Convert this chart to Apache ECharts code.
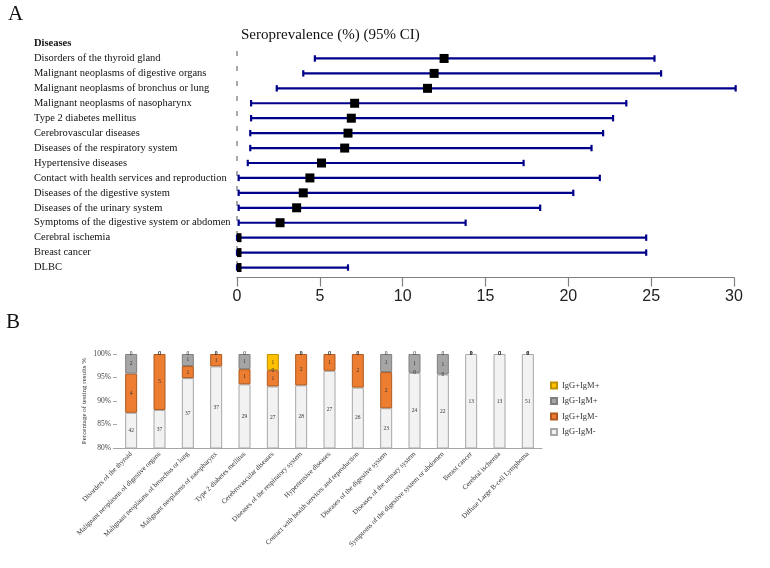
<!DOCTYPE html>
<html>
<head>
<meta charset="utf-8">
<script src="https://cdn.jsdelivr.net/npm/echarts@6/dist/echarts.min.js"></script>
<style>
html,body{margin:0;padding:0;background:#fff;}
#main{width:770px;height:568px;}
</style>
</head>
<body>
<div id="main"></div>
<script>
// panel A: forest plot
var diseases = ['Disorders of the thyroid gland', 'Malignant neoplasms of digestive organs', 'Malignant neoplasms of bronchus or lung',
    'Malignant neoplasms of nasopharynx', 'Type 2 diabetes mellitus', 'Cerebrovascular diseases', 'Diseases of the respiratory system',
    'Hypertensive diseases', 'Contact with health services and reproduction', 'Diseases of the digestive system',
    'Diseases of the urinary system', 'Symptoms of the digestive system or abdomen', 'Cerebral ischemia', 'Breast cancer', 'DLBC'];
var estimate = [12.5, 11.9, 11.5, 7.1, 6.9, 6.7, 6.5, 5.1, 4.4, 4.0, 3.6, 2.6, 0, 0, 0];
var ciLower = [4.7, 4.0, 2.4, 0.85, 0.85, 0.8, 0.8, 0.65, 0.1, 0.1, 0.1, 0.1, 0, 0, 0];
var ciUpper = [25.2, 25.6, 30.1, 23.5, 22.7, 22.1, 21.4, 17.3, 21.9, 20.3, 18.3, 13.8, 24.7, 24.7, 6.7];
var forestTicks = [0, 5, 10, 15, 20, 25, 30];

// panel B: testing results (counts)
var groups = ['Disorders of the thyroid', 'Malignant neoplasms of digestive organs', 'Malignant neoplasms of bronchus or lung',
    'Malignant neoplasms of nasopharynx', 'Type 2 diabetes mellitus', 'Cerebrovascular diseases', 'Diseases of the respiratory system',
    'Hypertensive diseases', 'Contact with health services and reproduction', 'Diseases of the digestive system',
    'Diseases of the urinary system', 'Symptoms of the digestive system or abdomen', 'Breast cancer', 'Cerebral ischemia',
    'Diffuse Large B-cell Lymphoma'];
var negNeg = [42, 37, 37, 37, 29, 27, 28, 27, 26, 23, 24, 22, 13, 13, 51];
var posNeg = [4, 5, 1, 1, 1, 1, 2, 1, 2, 2, 0, 0, 0, 0, 0];
var negPos = [2, 0, 1, 0, 1, 0, 0, 0, 0, 1, 1, 1, 0, 0, 0];
var posPos = [0, 0, 0, 0, 0, 1, 0, 0, 0, 0, 0, 0, 0, 0, 0];
var resultNames = ['IgG-IgM-', 'IgG+IgM-', 'IgG-IgM+', 'IgG+IgM+'];

var serif = '"Liberation Serif", "DejaVu Serif", serif';
var chart = echarts.init(document.getElementById('main'));

// error bar rows
var ciData = [];
var pointData = [];
for (var i = 0; i < diseases.length; i++) {
    ciData.push([ciLower[i], ciUpper[i], i]);
    pointData.push([estimate[i], i]);
}

// 100% stacked -> percent of each category total
var totals = [];
for (var i = 0; i < groups.length; i++) {
    totals.push(negNeg[i] + posNeg[i] + negPos[i] + posPos[i]);
}
function pct(arr) {
    var out = [];
    for (var i = 0; i < arr.length; i++) {
        var item = {value: arr[i] / totals[i] * 100, count: arr[i]};
        // empty segment: no border, only the "0" label
        if (arr[i] === 0) item.itemStyle = {borderWidth: 0};
        out.push(item);
    }
    return out;
}
var barColors = ['#f2f2f2', '#ed7d31', '#a5a5a5', '#ffc000'];
var barBorders = ['#a6a6a6', '#ae5a21', '#7f7f7f', '#bf9000'];
var barSets = [negNeg, posNeg, negPos, posPos];

function renderCI(params, api) {
    var y = api.value(2);
    var p1 = api.coord([api.value(0), y]);
    var p2 = api.coord([api.value(1), y]);
    var h = 3.2;
    var st = {stroke: '#00008B', lineWidth: 2.2};
    return {
        type: 'group',
        children: [
            {type: 'line', shape: {x1: p1[0], y1: p1[1], x2: p2[0], y2: p2[1]}, style: st},
            {type: 'line', shape: {x1: p1[0], y1: p1[1] - h, x2: p1[0], y2: p1[1] + h}, style: st},
            {type: 'line', shape: {x1: p2[0], y1: p2[1] - h, x2: p2[0], y2: p2[1] + h}, style: st}
        ]
    };
}
function renderPoint(params, api) {
    var p = api.coord([api.value(0), api.value(1)]);
    var s = 9;
    var rect = echarts.graphic.clipRectByRect(
        {x: p[0] - s / 2, y: p[1] - s / 2, width: s, height: s},
        {x: params.coordSys.x, y: params.coordSys.y, width: params.coordSys.width, height: params.coordSys.height}
    );
    if (!rect) return;
    return {type: 'rect', shape: rect, style: {fill: '#000'}};
}
// dashed reference line at x = 0, full grid height
function renderZero(params, api) {
    var x = api.coord([0, 0])[0];
    var cs = params.coordSys;
    return {
        type: 'line',
        shape: {x1: x, y1: cs.y, x2: x, y2: cs.y + cs.height},
        style: {stroke: '#555', lineWidth: 1, lineDash: [5, 10]}
    };
}

var series = [
    {
        type: 'custom',
        xAxisIndex: 0,
        yAxisIndex: 0,
        renderItem: renderZero,
        encode: {x: 0, y: 1},
        data: [[0, 0]],
        silent: true,
        z: 1
    },
    {
        type: 'custom',
        xAxisIndex: 0,
        yAxisIndex: 0,
        renderItem: renderCI,
        encode: {x: [0, 1], y: 2},
        data: ciData,
        silent: true,
        z: 2
    },
    {
        type: 'custom',
        xAxisIndex: 0,
        yAxisIndex: 0,
        renderItem: renderPoint,
        encode: {x: 0, y: 1},
        data: pointData,
        silent: true,
        z: 3
    }
];
for (var k = 0; k < resultNames.length; k++) {
    series.push({
        name: resultNames[k],
        type: 'bar',
        xAxisIndex: 1,
        yAxisIndex: 1,
        stack: 'res',
        barWidth: 12,
        data: pct(barSets[k]),
        itemStyle: {color: barColors[k], borderColor: barBorders[k], borderWidth: 1},
        label: {
            show: true,
            position: 'inside',
            fontSize: 5.5,
            fontFamily: serif,
            color: '#333',
            formatter: function (p) { return p.data.count; }
        }
    });
}

var option = {
    backgroundColor: '#fff',
    animation: false,
    textStyle: {fontFamily: serif},
    graphic: [
        {type: 'text', left: 8, top: 4, style: {text: 'A', font: '21px ' + serif, fill: '#111'}},
        {type: 'text', left: 6, top: 312, style: {text: 'B', font: '21px ' + serif, fill: '#111'}},
        {type: 'text', left: 34, top: 38, style: {text: 'Diseases', font: 'bold 10.5px ' + serif, fill: '#111'}},
        {type: 'text', left: 241, top: 28, style: {text: 'Seroprevalence (%) (95% CI)', font: '15px ' + serif, fill: '#111'}}
    ],
    legend: {
        data: resultNames.slice().reverse(),
        orient: 'vertical',
        left: 545,
        top: 376,
        icon: 'rect',
        itemWidth: 6,
        itemHeight: 6,
        itemGap: 6.5,
        selectedMode: false,
        textStyle: {fontSize: 8.5, fontFamily: serif, color: '#333'}
    },
    grid: [
        {left: 237, right: 36, top: 51, height: 224},
        {left: 117, right: 228, top: 354, height: 94}
    ],
    xAxis: [
        {
            type: 'value',
            gridIndex: 0,
            min: forestTicks[0],
            max: forestTicks[forestTicks.length - 1],
            interval: 5,
            offset: 2.5,
            axisLine: {show: true, lineStyle: {color: '#7f7f7f', width: 1.2}},
            axisTick: {show: true, length: 9, lineStyle: {color: '#7f7f7f', width: 1.2}},
            axisLabel: {fontSize: 16, margin: 11, color: '#222', fontFamily: '"Liberation Sans", Arial, sans-serif'},
            splitLine: {show: false}
        },
        {
            type: 'category',
            gridIndex: 1,
            data: groups,
            axisLine: {lineStyle: {color: '#a6a6a6'}},
            axisTick: {show: false},
            axisLabel: {rotate: 45, interval: 0, fontSize: 7, margin: 5, color: '#333', fontFamily: serif}
        }
    ],
    yAxis: [
        {
            type: 'category',
            gridIndex: 0,
            data: diseases,
            inverse: true,
            axisLine: {show: false},
            axisTick: {show: false},
            axisLabel: {align: 'left', margin: 203, fontSize: 10.5, color: '#111', fontFamily: serif}
        },
        {
            type: 'value',
            gridIndex: 1,
            min: 80,
            max: 100,
            interval: 5,
            name: 'Percentage of testing results %',
            nameLocation: 'middle',
            nameGap: 29,
            nameMoveOverlap: false,
            nameTextStyle: {fontSize: 7, color: '#333', fontFamily: serif},
            axisLine: {show: false},
            axisTick: {show: true, length: 4, lineStyle: {color: '#a6a6a6'}},
            axisLabel: {fontSize: 7.5, margin: 6, color: '#444', fontFamily: serif, formatter: '{value}%'},
            splitLine: {show: false}
        }
    ],
    series: series
};
chart.setOption(option);
</script>
</body>
</html>
